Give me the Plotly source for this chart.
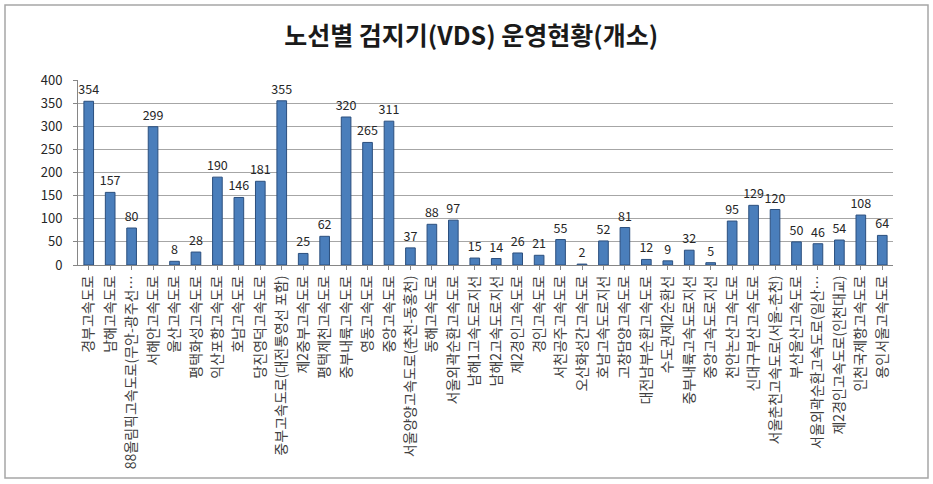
import plotly.graph_objects as go

routes = [
    "경부고속도로", "남해고속도로", "88올림픽고속도로(무안-광주선…", "서해안고속도로",
    "울산고속도로", "평택화성고속도로", "익산포항고속도로", "호남고속도로",
    "당진영덕고속도로", "중부고속도로(대전통영선 포함)", "제2중부고속도로", "평택제천고속도로",
    "중부내륙고속도로", "영동고속도로", "중앙고속도로", "서울양양고속도로(춘천-동홍천)",
    "동해고속도로", "서울외곽순환고속도로", "남해1고속도로지선", "남해2고속도로지선",
    "제2경인고속도로", "경인고속도로", "서천공주고속도로", "오산화성간고속도로",
    "호남고속도로지선", "고창담양고속도로", "대전남부순환고속도로", "수도권제2순환선",
    "중부내륙고속도로지선", "중앙고속도로지선", "천안논산고속도로", "신대구부산고속도로",
    "서울춘천고속도로(서울-춘천)", "부산울산고속도로", "서울외곽순환고속도로(일산…",
    "제2경인고속도로(인천대교)", "인천국제항고속도로", "용인서울고속도로",
]
vds_count = [
    354, 157, 80, 299, 8, 28, 190, 146, 181, 355, 25, 62, 320, 265, 311, 37,
    88, 97, 15, 14, 26, 21, 55, 2, 52, 81, 12, 9, 32, 5, 95, 129, 120, 50,
    46, 54, 108, 64,
]
y_ticks = [0, 50, 100, 150, 200, 250, 300, 350, 400]

KFONT = "Noto Sans CJK KR"

fig = go.Figure()
fig.add_trace(go.Bar(
    x=list(range(len(routes))), y=vds_count,
    marker=dict(color="#4A7EBB", line=dict(color="#2B4F7E", width=1)),
    text=[str(v) for v in vds_count], textposition="outside",
    textfont=dict(family=KFONT, size=12.5, color="#262626"),
    constraintext="none", cliponaxis=False, width=0.45,
))

# plot area in pixels: left 78, right 893, top 80, bottom 265
L, R, T, B = 78, 40, 80, 219
pw, ph = 933 - L - R, 484 - T - B
fig.add_shape(type="rect", xref="paper", yref="paper",
              x0=(5 - L) / pw, x1=(928 - L) / pw,
              y0=(484 - B - 478) / ph, y1=(484 - B - 5) / ph,
              line=dict(color="#A6A6A6", width=1.5), layer="below")

fig.update_layout(
    width=933, height=484,
    margin=dict(l=L, r=R, t=T, b=B),
    paper_bgcolor="white", plot_bgcolor="white",
    showlegend=False,
    title=dict(text="<b>노선별 검지기(VDS) 운영현황(개소)</b>", x=0.505, xanchor="center",
               y=0.925, yanchor="middle",
               font=dict(family=KFONT, size=25, color="#1a1a1a")),
)
fig.update_xaxes(
    tickmode="array", tickvals=list(range(len(routes))), ticktext=routes,
    tickangle=-90, range=[-0.5, len(routes) - 0.5],
    tickfont=dict(family=KFONT, size=14, color="#404040"),
    showline=True, linecolor="#868686", ticks="outside", ticklen=4, tickcolor="#868686",
    showgrid=False,
)
fig.update_yaxes(
    range=[0, 400], tickvals=y_ticks,
    tickfont=dict(family=KFONT, size=13, color="#262626"),
    showgrid=True, gridcolor="#A6A6A6", gridwidth=1,
    showline=True, linecolor="#868686", zeroline=False,
    ticks="outside", ticklen=4, tickcolor="#868686", ticklabelstandoff=8,
)

fig.write_html("out.html", config={"displayModeBar": False},
               post_script="document.body.style.margin='0px';")
